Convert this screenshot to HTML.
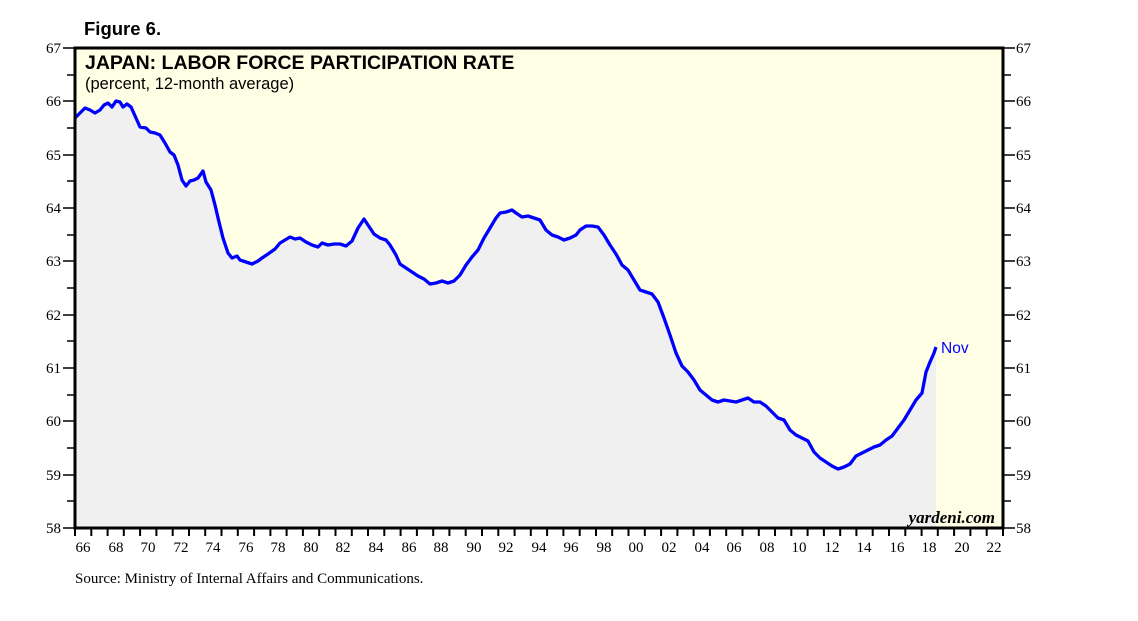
<!DOCTYPE html>
<html><head><style>
body{margin:0;background:#fff;}
svg{display:block;}
</style></head><body>
<svg width="1138" height="621" xmlns="http://www.w3.org/2000/svg">
<rect x="75" y="48" width="928" height="480" fill="#ffffe6"/>
<polygon fill="#f0f0f0" points="75,528 75,118 80,113 85,108 90,110 95,113 100,110 104,105 108,103 112,107 116,101 120,102 123,107 127,104 131,107 136,118 140,127 146,128 150,132 155,133 160,135 165,143 170,152 174,155 178,165 182,180 186,186 190,181 194,180 198,178 203,171 206,182 211,190 215,205 219,222 223,238 228,253 232,258 237,256 240,260 246,262 252,264 258,261 262,258 268,254 275,249 280,243 285,240 290,237 295,239 300,238 306,242 312,245 318,247 322,243 328,245 334,244 340,244 346,246 352,241 358,228 364,219 368,225 374,234 380,238 386,240 390,245 396,255 400,264 406,268 412,272 418,276 424,279 430,284 436,283 442,281 448,283 454,281 460,275 466,265 472,257 478,250 484,238 490,228 496,218 500,213 506,212 512,210 516,213 522,217 528,216 534,218 540,220 546,230 552,235 558,237 564,240 570,238 576,235 580,230 586,226 592,226 598,227 604,235 610,245 616,254 622,265 628,270 634,280 640,290 646,292 652,294 658,302 664,318 670,335 676,353 682,366 688,372 694,380 700,390 706,395 712,400 718,402 724,400 730,401 736,402 742,400 748,398 754,402 760,402 766,406 772,412 778,418 784,420 790,430 796,435 802,438 808,441 814,452 820,458 826,462 832,466 838,469 844,467 850,464 856,456 862,453 868,450 874,447 880,445 886,440 892,436 898,428 904,420 910,410 916,400 922,393 926,372 930,362 934,353 936,347 936,528"/>
<polyline fill="none" stroke="#0000ff" stroke-width="3.3" stroke-linejoin="round" points="75,118 80,113 85,108 90,110 95,113 100,110 104,105 108,103 112,107 116,101 120,102 123,107 127,104 131,107 136,118 140,127 146,128 150,132 155,133 160,135 165,143 170,152 174,155 178,165 182,180 186,186 190,181 194,180 198,178 203,171 206,182 211,190 215,205 219,222 223,238 228,253 232,258 237,256 240,260 246,262 252,264 258,261 262,258 268,254 275,249 280,243 285,240 290,237 295,239 300,238 306,242 312,245 318,247 322,243 328,245 334,244 340,244 346,246 352,241 358,228 364,219 368,225 374,234 380,238 386,240 390,245 396,255 400,264 406,268 412,272 418,276 424,279 430,284 436,283 442,281 448,283 454,281 460,275 466,265 472,257 478,250 484,238 490,228 496,218 500,213 506,212 512,210 516,213 522,217 528,216 534,218 540,220 546,230 552,235 558,237 564,240 570,238 576,235 580,230 586,226 592,226 598,227 604,235 610,245 616,254 622,265 628,270 634,280 640,290 646,292 652,294 658,302 664,318 670,335 676,353 682,366 688,372 694,380 700,390 706,395 712,400 718,402 724,400 730,401 736,402 742,400 748,398 754,402 760,402 766,406 772,412 778,418 784,420 790,430 796,435 802,438 808,441 814,452 820,458 826,462 832,466 838,469 844,467 850,464 856,456 862,453 868,450 874,447 880,445 886,440 892,436 898,428 904,420 910,410 916,400 922,393 926,372 930,362 934,353 936,347"/>
<rect x="75" y="48" width="928" height="480" fill="none" stroke="#000" stroke-width="3"/>
<g stroke="#000" stroke-width="1.5" id="yt">
<line x1="63" y1="48" x2="75" y2="48"/><line x1="67" y1="75" x2="75" y2="75"/>
<line x1="63" y1="101" x2="75" y2="101"/><line x1="67" y1="128" x2="75" y2="128"/>
<line x1="63" y1="155" x2="75" y2="155"/><line x1="67" y1="181" x2="75" y2="181"/>
<line x1="63" y1="208" x2="75" y2="208"/><line x1="67" y1="235" x2="75" y2="235"/>
<line x1="63" y1="261" x2="75" y2="261"/><line x1="67" y1="288" x2="75" y2="288"/>
<line x1="63" y1="315" x2="75" y2="315"/><line x1="67" y1="341" x2="75" y2="341"/>
<line x1="63" y1="368" x2="75" y2="368"/><line x1="67" y1="395" x2="75" y2="395"/>
<line x1="63" y1="421" x2="75" y2="421"/><line x1="67" y1="448" x2="75" y2="448"/>
<line x1="63" y1="475" x2="75" y2="475"/><line x1="67" y1="501" x2="75" y2="501"/>
<line x1="63" y1="528" x2="75" y2="528"/>
</g>
<use href="#yt" transform="translate(1078,0) scale(-1,1)"/>
<g font-family="Liberation Serif, serif" font-size="15" fill="#000">
<g text-anchor="end">
<text x="61" y="53">67</text><text x="61" y="106">66</text><text x="61" y="160">65</text><text x="61" y="213">64</text><text x="61" y="266">63</text><text x="61" y="320">62</text><text x="61" y="373">61</text><text x="61" y="426">60</text><text x="61" y="480">59</text><text x="61" y="533">58</text>
</g>
<text x="1016" y="53">67</text><text x="1016" y="106">66</text><text x="1016" y="160">65</text><text x="1016" y="213">64</text><text x="1016" y="266">63</text><text x="1016" y="320">62</text><text x="1016" y="373">61</text><text x="1016" y="426">60</text><text x="1016" y="480">59</text><text x="1016" y="533">58</text>
</g>
<g stroke="#000" stroke-width="2">
<path d="M75,528v8M91.3,528v8M107.6,528v8M123.8,528v8M140.1,528v8M156.4,528v8M172.7,528v8M189,528v8M205.2,528v8M221.5,528v8M237.8,528v8M254.1,528v8M270.4,528v8M286.6,528v8M302.9,528v8M319.2,528v8M335.5,528v8M351.8,528v8M368,528v8M384.3,528v8M400.6,528v8M416.9,528v8M433.2,528v8M449.4,528v8M465.7,528v8M482,528v8M498.3,528v8M514.6,528v8M530.8,528v8M547.1,528v8M563.4,528v8M579.7,528v8M596,528v8M612.2,528v8M628.5,528v8M644.8,528v8M661.1,528v8M677.4,528v8M693.6,528v8M709.9,528v8M726.2,528v8M742.5,528v8M758.8,528v8M775,528v8M791.3,528v8M807.6,528v8M823.9,528v8M840.2,528v8M856.4,528v8M872.7,528v8M889,528v8M905.3,528v8M921.6,528v8M937.8,528v8M954.1,528v8M970.4,528v8M986.7,528v8M1003,528v8"/>
</g>
<g font-family="Liberation Serif, serif" font-size="15" fill="#000" text-anchor="middle">
<text x="83" y="552">66</text><text x="116" y="552">68</text><text x="148" y="552">70</text><text x="181" y="552">72</text><text x="213" y="552">74</text><text x="246" y="552">76</text><text x="278" y="552">78</text><text x="311" y="552">80</text><text x="343" y="552">82</text><text x="376" y="552">84</text><text x="409" y="552">86</text><text x="441" y="552">88</text><text x="474" y="552">90</text><text x="506" y="552">92</text><text x="539" y="552">94</text><text x="571" y="552">96</text><text x="604" y="552">98</text><text x="636" y="552">00</text><text x="669" y="552">02</text><text x="702" y="552">04</text><text x="734" y="552">06</text><text x="767" y="552">08</text><text x="799" y="552">10</text><text x="832" y="552">12</text><text x="864" y="552">14</text><text x="897" y="552">16</text><text x="929" y="552">18</text><text x="962" y="552">20</text><text x="994" y="552">22</text>
</g>
<text x="84" y="35" font-family="Liberation Sans, sans-serif" font-size="18.5" font-weight="bold">Figure 6.</text>
<text x="85" y="69" font-family="Liberation Sans, sans-serif" font-size="19.5" font-weight="bold">JAPAN: LABOR FORCE PARTICIPATION RATE</text>
<text x="85" y="89" font-family="Liberation Sans, sans-serif" font-size="16.5">(percent, 12-month average)</text>
<text x="941" y="353" font-family="Liberation Sans, sans-serif" font-size="15.5" fill="#0000ff">Nov</text>
<text x="995" y="523" font-family="Liberation Serif, serif" font-size="17" font-style="italic" font-weight="bold" text-anchor="end">yardeni.com</text>
<text x="75" y="583" font-family="Liberation Serif, serif" font-size="15">Source: Ministry of Internal Affairs and Communications.</text>
</svg>
</body></html>
